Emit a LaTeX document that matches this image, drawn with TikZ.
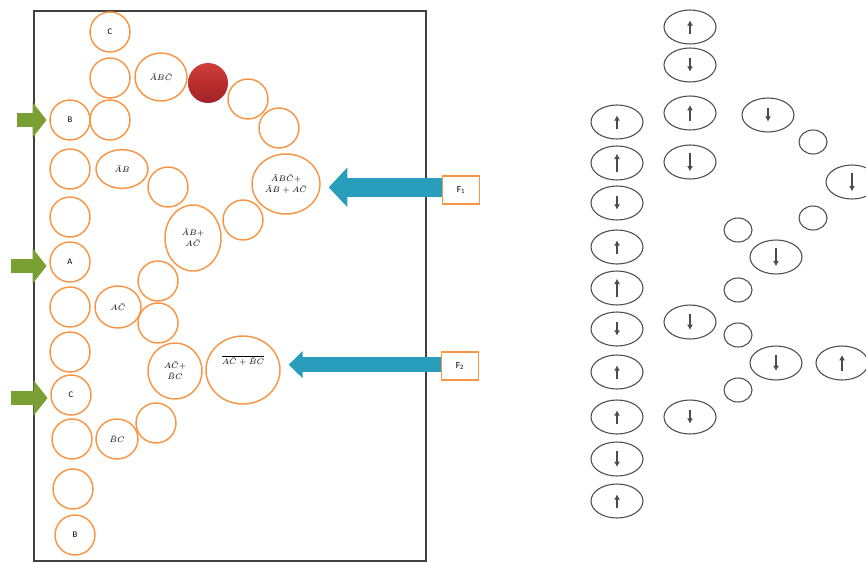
\documentclass[tikz,border=0pt]{standalone}
\usepackage{amsmath}
\usepackage{fontspec}
\setmainfont{Carlito}
\usetikzlibrary{shapes.geometric, arrows.meta, positioning}
\definecolor{cellorange}{RGB}{247,150,70}
\definecolor{ingreen}{RGB}{122,160,52}
\definecolor{outblue}{RGB}{40,158,188}
\definecolor{redlight}{RGB}{210,62,60}
\definecolor{reddark}{RGB}{160,32,36}

\tikzset{
  cell/.style={ellipse, draw=cellorange, line width=1.1pt, minimum width=30pt, minimum height=30pt, inner sep=0pt, font=\fontsize{6.5}{8.5}\selectfont, align=center},
  spin/.style={ellipse, draw=black!70, line width=0.8pt, minimum width=39pt, minimum height=25.5pt, inner sep=0pt},
  hole/.style={ellipse, draw=black!70, line width=0.8pt, minimum width=21pt, minimum height=18pt, inner sep=0pt},
  spinup/.style={spin, path picture={\draw[line width=1.1pt, -{Latex[length=4pt,width=4.5pt]}] ([yshift=-#1]path picture bounding box.center) -- ([yshift=#1]path picture bounding box.center);}},
  spinup/.default=5pt,
  spindown/.style={spin, path picture={\draw[line width=1.1pt, -{Latex[length=4pt,width=4.5pt]}] ([yshift=#1]path picture bounding box.center) -- ([yshift=-#1]path picture bounding box.center);}},
  spindown/.default=5pt,
  fbox/.style={draw=cellorange, line width=1.1pt, minimum width=28pt, minimum height=21pt, inner sep=0pt, font=\fontsize{7}{8}\selectfont},
  inarrow/.style={ingreen, line width=11pt, -{Triangle[length=10.5pt,width=26pt]}},
  outarrow/.style={outblue, line width=#1, shorten >=6pt},
}

\begin{document}
\begin{tikzpicture}[x=0.75pt, y=-0.75pt]
  \useasboundingbox (0,0) rectangle (866,563);
  \draw[black!75, line width=1.3pt] (34,11) rectangle (426,561);

  % left part: orange cells
  \node[cell] (c1) at (110,32) {C};
  \node[cell] (e1) at (110,78) {};
  \node[cell] (e4) at (110,120) {};
  \node[cell, minimum width=39pt, minimum height=36pt] (abc) at (161,77) {$\bar{A}B\bar{C}$};
  \node[circle, top color=redlight, bottom color=reddark, minimum size=30pt, inner sep=0pt] (red) at (208,83) {};
  \node[cell] (e2) at (248,99) {};
  \node[cell] (e3) at (279,128) {};
  \node[cell, minimum width=51pt, minimum height=45pt] (big) at (286,184) {$\bar{A}B\bar{C}+$\\$\bar{A}B+A\bar{C}$};
  \node[cell] (e7) at (243,220) {};
  \node[cell, minimum width=39pt, minimum height=29pt] (ab) at (122,169) {$\bar{A}B$};
  \node[cell] (e6) at (168,187) {};
  \node[cell, minimum width=42pt, minimum height=49.5pt] (abac) at (193,238) {$\bar{A}B+$\\$A\bar{C}$};
  \node[cell] (e9) at (158,281) {};
  \node[cell, minimum width=34.5pt, minimum height=31.5pt] (ac) at (118,307) {$A\bar{C}$};
  \node[cell] (e11) at (158,323) {};
  \node[cell, minimum width=40.5pt, minimum height=42pt] (acbc) at (175,371) {$A\bar{C}+$\\$\bar{B}C$};
  \node[cell, minimum width=55.5pt, minimum height=51pt] (ov) at (243,370) {$\overline{A\bar{C}+\bar{B}C}$\\[6pt]};
  \node[cell, minimum width=31.5pt, minimum height=30pt] (bc) at (117,439) {$\bar{B}C$};
  \node[cell] (e14) at (156,423) {};

  \node[cell] (b1) at (70,120) {B};
  \node[cell] (e5) at (70,169) {};
  \node[cell] (e8) at (70,217) {};
  \node[cell] (a1) at (70,262) {A};
  \node[cell] (e10) at (70,307) {};
  \node[cell] (e12) at (70,352) {};
  \node[cell] (c2) at (71,395) {C};
  \node[cell] (e13) at (72,439) {};
  \node[cell] (e15) at (73,489) {};
  \node[cell] (b2) at (75,535) {B};

  % inputs
  \coordinate (gb) at (17,120);
  \coordinate (ga) at (11,266);
  \coordinate (gc) at (11,398);
  \draw[inarrow] (gb) -- ([xshift=-2pt]b1.west);
  \draw[inarrow] (ga) -- ([xshift=-2pt]a1.west |- ga);
  \draw[inarrow] (gc) -- ([xshift=-2pt]c2.west |- gc);

  % outputs
  \node[fbox] (f1) at (461,190) {F\textsubscript{1}};
  \node[fbox] (f2) at (460,366) {F\textsubscript{2}};
  \draw[outarrow=14pt, -{Triangle[length=14pt,width=29pt]}] ([yshift=2pt]f1.west) -- ([yshift=2pt]f1.west -| big.east);
  \draw[outarrow=11pt, -{Triangle[length=10.5pt,width=20pt]}] ([yshift=1pt]f2.west) -- ([yshift=1pt]f2.west -| ov.east);

  % right part: spins
  \node[spinup] (s1) at (617,122) {};
  \node[spinup=7pt] (s2) at (617,163) {};
  \node[spindown] (s3) at (617,203) {};
  \node[spinup] (s4) at (617,247) {};
  \node[spinup=7pt] (s5) at (617,288) {};
  \node[spindown] (s6) at (617,329) {};
  \node[spinup] (s7) at (617,372) {};
  \node[spinup] (s8) at (617,417) {};
  \node[spindown=6pt] (s9) at (617,459) {};
  \node[spinup] (s10) at (617,501) {};

  \node[spinup] (t1) at (690,27) {};
  \node[spindown] (t2) at (690,65) {};
  \node[spinup=6pt] (t3) at (690,113) {};
  \node[spindown=7pt] (t4) at (690,162) {};
  \node[spindown=6pt] (t5) at (690,322) {};
  \node[spindown] (t6) at (690,417) {};

  \node[spindown] (u1) at (768,115) {};
  \node[hole] (h1) at (813,142) {};
  \node[spindown=7pt] (u2) at (852,182) {};
  \node[hole] (h2) at (813,218) {};
  \node[hole] (h3) at (738,230) {};
  \node[spindown=7pt] (u3) at (776,257) {};
  \node[hole] (h4) at (738,290) {};
  \node[hole] (h5) at (738,335) {};
  \node[spindown=6pt] (u4) at (776,363) {};
  \node[spinup=6pt] (u5) at (842,363) {};
  \node[hole] (h6) at (738,390) {};
\end{tikzpicture}
\end{document}
